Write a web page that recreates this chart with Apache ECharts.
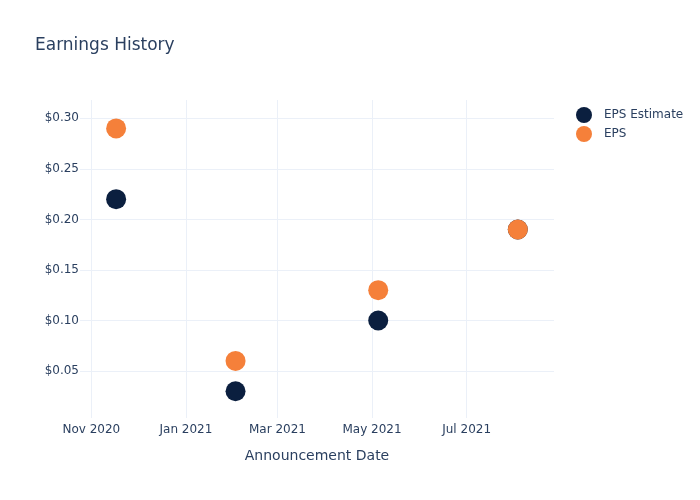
<!DOCTYPE html>
<html>
<head>
<meta charset="utf-8">
<script src="https://cdn.jsdelivr.net/npm/echarts@6/dist/echarts.min.js"></script>
<style>html,body{margin:0;padding:0;background:#fff;}#c{width:700px;height:500px;}</style>
</head>
<body>
<div id="c"></div>
<script>
const dates = ['2020-11-17', '2021-02-02', '2021-05-05', '2021-08-03'];
const epsEstimate = [0.22, 0.03, 0.10, 0.19];
const eps = [0.29, 0.06, 0.13, 0.19];
const monthNames = ['Jan','Feb','Mar','Apr','May','Jun','Jul','Aug','Sep','Oct','Nov','Dec'];

function toTs(s) { const p = s.split('-').map(Number); return new Date(p[0], p[1] - 1, p[2]).getTime(); }
const DAY = 86400000;
const FONT = 'DejaVu Sans';
const TXT = '#2a3f5f';
const GRID = '#ebf0f8';

const chart = echarts.init(document.getElementById('c'), null, { renderer: 'canvas' });
chart.setOption({
  animation: false,
  backgroundColor: '#fff',
  textStyle: { fontFamily: FONT },
  title: {
    text: 'Earnings History', left: 30, top: 32,
    textStyle: { fontFamily: FONT, fontSize: 17, fontWeight: 'normal', color: TXT }
  },
  legend: {
    orient: 'vertical', left: 571, top: 102,
    itemWidth: 30, itemHeight: 16, itemGap: 3,
    icon: 'circle',
    textStyle: { fontFamily: FONT, fontSize: 12, color: TXT },
    data: ['EPS Estimate', 'EPS']
  },
  grid: { left: 80, right: 146, top: 100, bottom: 82, containLabel: false },
  xAxis: {
    type: 'time',
    min: toTs('2020-10-25') - 7 * 3600000,
    max: toTs('2021-08-26') + 8 * 3600000,
    minInterval: 62 * DAY, maxInterval: 62 * DAY,
    name: 'Announcement Date', nameLocation: 'middle', nameGap: 31,
    nameTextStyle: { fontFamily: FONT, fontSize: 14, color: TXT },
    axisLine: { show: false }, axisTick: { show: false },
    axisLabel: {
      fontFamily: FONT, fontSize: 12, color: TXT, margin: 6,
      formatter: function (v) { const d = new Date(v); return monthNames[d.getMonth()] + ' ' + d.getFullYear(); }
    },
    splitLine: { show: true, showMinLine: false, showMaxLine: false, lineStyle: { color: GRID, width: 1 } }
  },
  yAxis: {
    type: 'value', min: 0.0035, max: 0.3181, splitNumber: 6,
    axisLine: { show: false }, axisTick: { show: false },
    axisLabel: {
      fontFamily: FONT, fontSize: 12, color: TXT, margin: 1,
      showMinLabel: false, showMaxLabel: false,
      formatter: function (v) { return '$' + v.toFixed(2); }
    },
    splitLine: { show: true, showMinLine: false, showMaxLine: false, lineStyle: { color: GRID, width: 1 } }
  },
  series: [
    {
      name: 'EPS Estimate', type: 'scatter', symbolSize: 20,
      itemStyle: { color: '#0b1f3f', opacity: 1 },
      data: dates.map((d, i) => [toTs(d), epsEstimate[i]])
    },
    {
      name: 'EPS', type: 'scatter', symbolSize: 20,
      itemStyle: { color: '#f5803a', opacity: 1 },
      data: dates.map((d, i) => [toTs(d), eps[i]])
    }
  ]
});
</script>
</body>
</html>
